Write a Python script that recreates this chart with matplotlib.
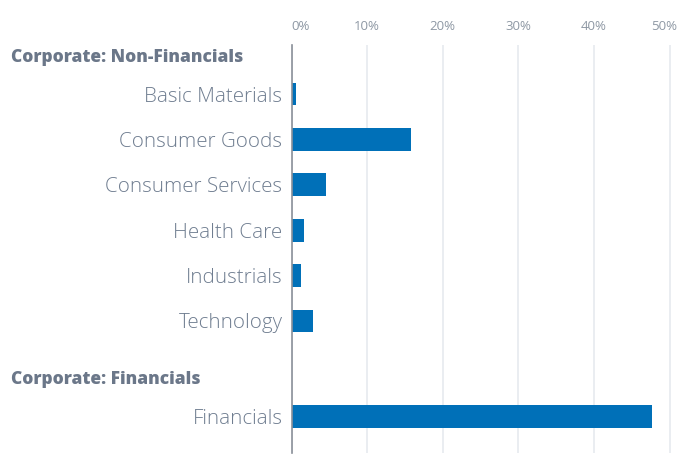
import matplotlib
matplotlib.use('Agg')
from matplotlib import pyplot as plt
from matplotlib import transforms

categories = ['Basic Materials', 'Consumer Goods', 'Consumer Services',
              'Health Care', 'Industrials', 'Technology', 'Financials']
weights = [0.6, 15.8, 4.6, 1.7, 1.3, 2.9, 47.7]
groups = ['Corporate: Non-Financials', 'Corporate: Financials']
ticks = [0, 10, 20, 30, 40, 50]

# row positions: headers sit on their own rows
ypos = [1, 2, 3, 4, 5, 6, 8.1]
header_pos = [0.2, 7.3]

plt.rcParams['font.family'] = ['Open Sans', 'DejaVu Sans']

fig = plt.figure(figsize=(6.78, 4.55), dpi=100)
ax = fig.add_axes([291.5 / 678, 2 / 455, (678 - 291.5) / 678, (453 - 45) / 455])

ax.barh(ypos, weights, height=0.5, color='#0070b8', zorder=3)
ax.set_xlim(0, 51.1)
ax.set_ylim(8.91, -0.08)

ax.set_xticks(ticks)
ax.xaxis.tick_top()
ax.set_xticklabels([f'{t}%' for t in ticks], color='#8e98a4', fontsize=9.5)
ax.tick_params(axis='x', length=0, pad=9)
xl = ax.get_xticklabels()
xl[0].set_horizontalalignment('left')
xl[-1].set_transform(xl[-1].get_transform() + transforms.ScaledTranslation(-6 / 100, 0, fig.dpi_scale_trans))
ax.grid(axis='x', color='#e6eaef', linewidth=1.2, zorder=0)

ax.set_yticks(ypos)
ax.set_yticklabels(categories, color='#6f7d90', fontsize=14.8, fontweight='light')
ax.tick_params(axis='y', length=0, pad=6.5)

for s in ['top', 'right', 'bottom']:
    ax.spines[s].set_visible(False)
ax.spines['left'].set_color('#8a9099')
ax.spines['left'].set_linewidth(1.2)
ax.spines['left'].set_zorder(4)

hdr_tr = transforms.blended_transform_factory(fig.transFigure, ax.transData)
for g, p in zip(groups, header_pos):
    ax.text(11 / 678, p, g, transform=hdr_tr, ha='left', va='center',
            fontsize=12.5, fontweight='heavy', color='#6b7789')

plt.savefig('out.png', dpi=100)
